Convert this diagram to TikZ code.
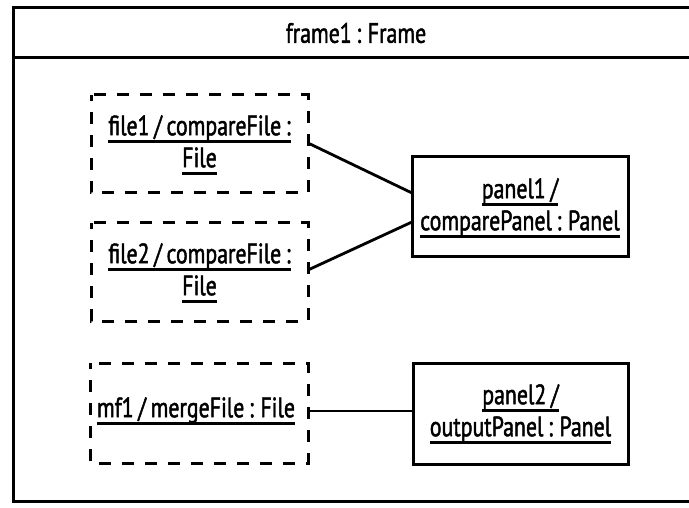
\documentclass[tikz,border=0pt]{standalone}
\usepackage{fontspec}
\setmainfont[FakeStretch=0.78,FakeBold=1.6,WordSpace=0.8]{PT Sans}
\newcommand\uln[1]{\setbox0\hbox{#1}\rlap{\rule[-7.5pt]{\wd0}{2.4pt}}\box0}
\begin{document}
\begin{tikzpicture}[x=1pt,y=-1pt,
  every node/.style={font=\fontsize{28pt}{32pt}\selectfont, inner sep=0pt, align=center},
  objbox/.style={draw, line width=3pt},
  dashbox/.style={draw, line width=3pt, dash pattern=on 12pt off 11pt, dash phase=6pt},
  conn/.style={line width=2.8pt}]
\useasboundingbox (0,0) rectangle (689,508);
\clip (0,0) rectangle (689,508);
% frame
\draw[line width=3pt] (13,8) rectangle (700,501);
\draw[line width=3pt] (13,58) -- (700,58);
\node (title) at (356,33) {frame1 : Frame};
% objects
\draw[dashbox] (91,95) rectangle (308,193);
\node (file1) at (199.5,145) {\uln{file1 / compareFile :}\\\uln{File}};
\coordinate (f1e) at (308,143);
\draw[dashbox] (91,223) rectangle (308,321);
\node (file2) at (199.5,273) {\uln{file2 / compareFile :}\\\uln{File}};
\coordinate (f2e) at (308,270);
\draw[dashbox] (90,363) rectangle (308,463);
\node (mf1) at (196,411) {\uln{mf1 / mergeFile : File}};
\coordinate (mfe) at (308,411);
\draw[objbox] (412,157) rectangle (628,257);
\node (panel1) at (520,208) {\uln{panel1 /}\\\uln{comparePanel : Panel}};
\coordinate (p1a) at (412,193);
\coordinate (p1b) at (412,222);
\draw[objbox] (413,363) rectangle (628,464);
\node (panel2) at (520.5,414) {\uln{panel2 /}\\\uln{outputPanel : Panel}};
\coordinate (p2w) at (413,411);
% connectors
\draw[conn] (f1e) -- (p1a);
\draw[conn] (f2e) -- (p1b);
\draw[conn] (mfe) -- (p2w);
\end{tikzpicture}
\end{document}
